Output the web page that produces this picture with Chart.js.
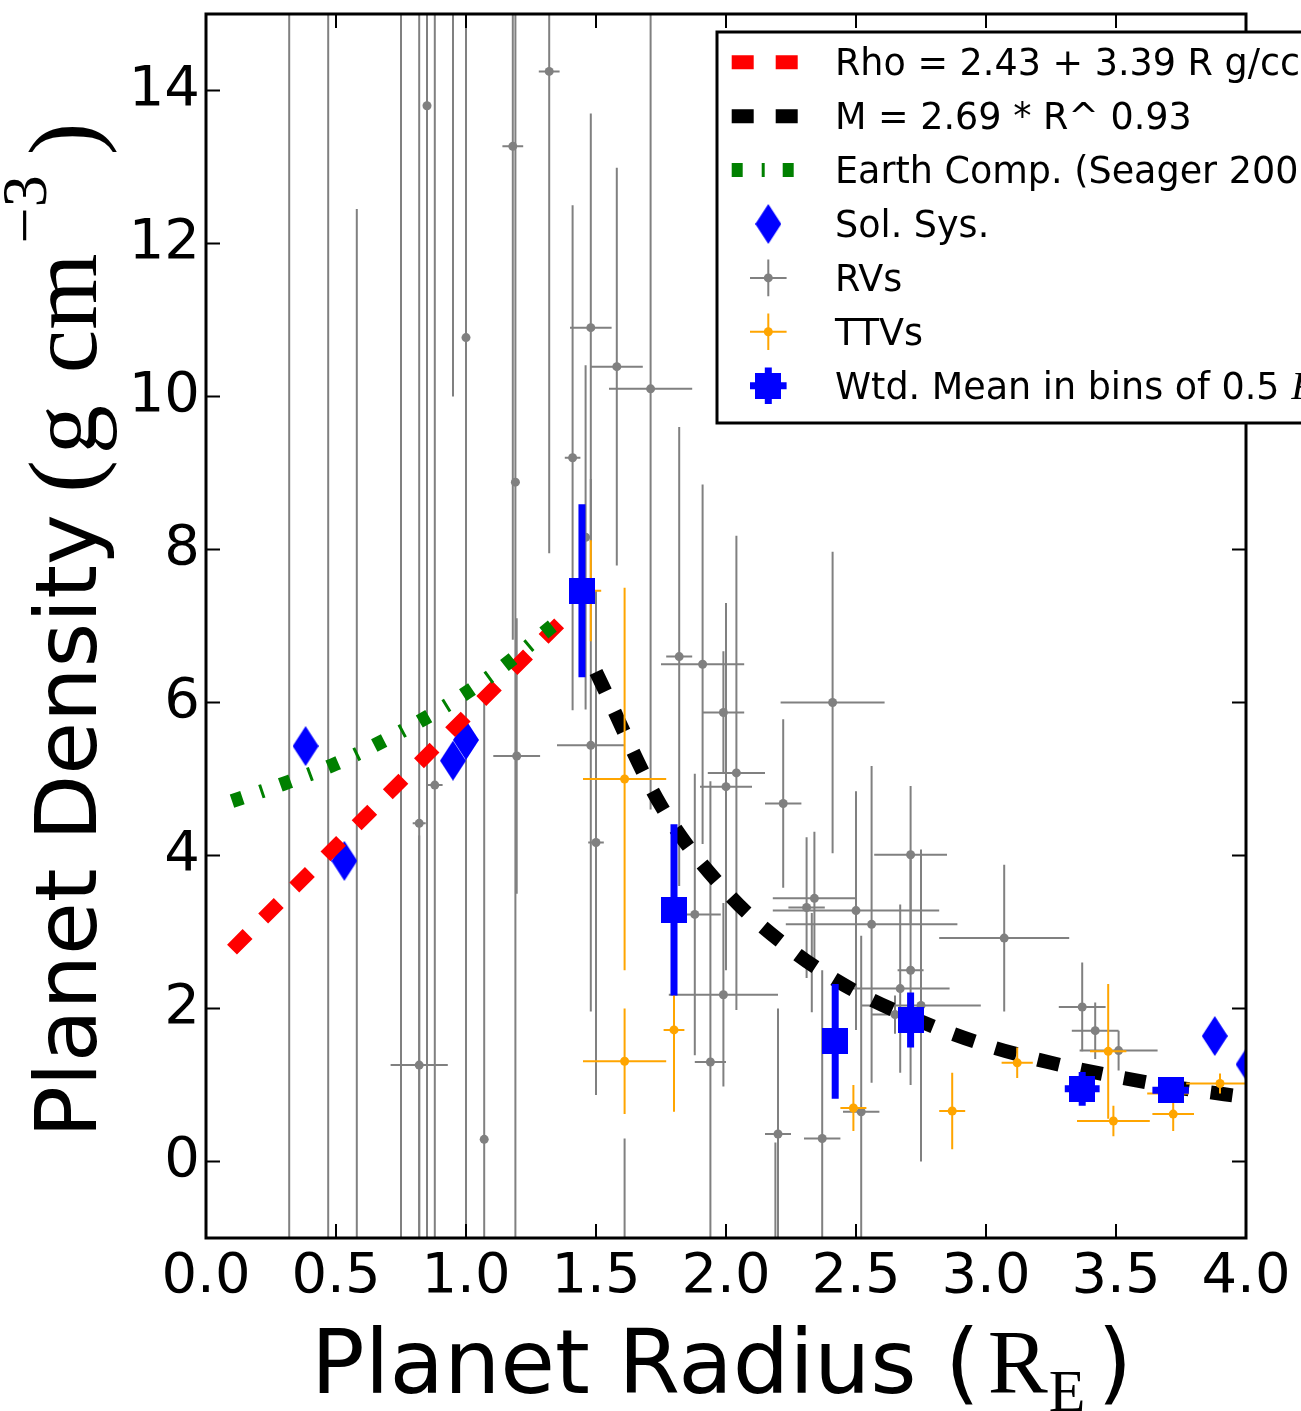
<!DOCTYPE html>
<html>
<head>
<meta charset="utf-8">
<title>Planet density vs radius</title>
<script src="https://cdn.jsdelivr.net/npm/chart.js@4.4.1/dist/chart.umd.min.js"></script>
<style>
  html, body { margin: 0; padding: 0; background: #fff; }
  canvas { display: block; }
</style>
</head>
<body>
<canvas id="densityChart" width="1301" height="1411"></canvas>
<script>
// Planet density vs planet radius, with fits, RV / TTV planets and binned means

const xTicks = [0, 0.5, 1, 1.5, 2, 2.5, 3, 3.5, 4];
const yTicks = [0, 2, 4, 6, 8, 10, 12, 14];

// linear density fit (red)
const fitR = [0.1, 1.36];
const fitRho = [2.77, 7.04];

// power-law mass fit, as density (black)
const powR = [1.5, 1.75, 2.0, 2.25, 2.5, 2.75, 3.0, 3.25, 3.5, 3.75, 4.0];
const powRho = [6.40, 4.65, 3.53, 2.77, 2.22, 1.83, 1.52, 1.29, 1.11, 0.96, 0.84];

// Earth composition curve (green)
const earthR = [0.1, 0.3, 0.5, 0.7, 0.9, 1.1, 1.35];
const earthRho = [4.71, 4.94, 5.2, 5.53, 5.91, 6.36, 7.05];

// solar system planets
const solR = [0.383, 0.532, 0.95, 1.0, 3.88, 4.01];
const solRho = [5.43, 3.93, 5.24, 5.51, 1.64, 1.27];

// RV planets
const rvR = [0.32, 0.47, 0.58, 0.75, 0.95, 0.82, 0.82, 0.85, 0.88, 1.00, 1.07, 1.18, 1.19, 1.195, 1.32, 1.41, 1.46, 1.48, 1.48, 1.50, 1.58, 1.71, 1.61, 1.82, 1.91, 1.88, 1.99, 2.04, 2.00, 1.94, 1.99, 2.22, 2.41, 2.20, 2.19, 2.37, 2.33, 2.31, 2.34, 2.50, 2.56, 2.71, 2.71, 2.67, 2.75, 2.65, 2.52, 3.07, 3.37, 3.42, 3.51];
const rvRho = [18.0, -3.0, -3.0, 20.0, 16.5, 4.42, 1.26, 13.8, 4.92, 10.77, 0.29, 13.27, 8.88, 5.30, 14.25, 9.2, 8.16, 10.9, 5.44, 4.17, 10.39, 10.1, -1.5, 6.6, 6.5, 3.23, 5.87, 5.08, 4.9, 1.3, 2.18, 4.68, 6.0, 0.36, -1.5, 0.3, 2.6, 3.32, 3.44, 3.28, 3.1, 4.01, 2.5, 2.26, 2.04, 1.92, 0.65, 2.92, 2.02, 1.71, 1.45];
const rvRErr = [0.01, 0.01, 0.01, 0.01, 0.01, 0.025, 0.11, 0.01, 0.03, 0.01, 0.01, 0.04, 0.01, 0.09, 0.04, 0.03, 0.01, 0.08, 0.13, 0.03, 0.1, 0.16, 0.01, 0.05, 0.16, 0.1, 0.08, 0.11, 0.1, 0.06, 0.21, 0.07, 0.2, 0.05, 0.01, 0.07, 0.02, 0.07, 0.16, 0.32, 0.33, 0.14, 0.05, 0.19, 0.23, 0.09, 0.07, 0.25, 0.09, 0.09, 0.15];
const rvRhoErr = [20, 19, 15.45, 22, 6.5, 11, 3, 16, 11, 12, 5.83, 6.45, 10, 1.8, 6.3, 3.3, 2.25, 2.8, 3.48, 3.3, 2.6, 5.5, 1.8, 3.0, 2.35, 1.84, 0.8, 3.1, 2.4, 3.67, 1.2, 1.1, 1.97, 1.64, 1.75, 2.2, 0.65, 0.92, 0.87, 1.56, 2.07, 0.9, 1.5, 1.1, 2.04, 0.25, 2.3, 0.96, 0.58, 0.37, 0.26];

// TTV planets
const ttvR = [1.48, 1.61, 1.61, 1.80, 2.49, 2.87, 3.12, 3.47, 3.49, 3.70, 3.72, 3.90];
const ttvRho = [7.46, 5.0, 1.31, 1.72, 0.70, 0.66, 1.29, 1.44, 0.53, 0.89, 0.62, 1.02];
const ttvRErr = [0.04, 0.16, 0.16, 0.04, 0.05, 0.05, 0.06, 0.07, 0.14, 0.08, 0.08, 0.13];
const ttvRhoErr = [0.66, 2.5, 0.69, 1.07, 0.3, 0.5, 0.2, 0.88, 0.2, 0.1, 0.22, 0.13];

// weighted means in 0.5 R_E bins
const meanR = [1.446, 1.80, 2.42, 2.71, 3.37, 3.71];
const meanRho = [7.46, 3.29, 1.57, 1.85, 0.95, 0.93];
const meanRErr = [0.03, 0.03, 0.03, 0.04, 0.067, 0.07];
const meanRhoErr = [1.13, 1.12, 0.75, 0.36, 0.22, 0.12];

const legendLabels = ['Rho = 2.43 + 3.39 R g/cc', 'M = 2.69 * R^ 0.93', 'Earth Comp. (Seager 2007)',
  'Sol. Sys.', 'RVs', 'TTVs', 'Wtd. Mean in bins of 0.5 '];

const RED = '#ff0000', GREEN = '#008000', BLUE = '#0000ff', GRAY = '#808080', ORANGE = '#ffa500';
const SANS = '"DejaVu Sans"', SERIF = '"Liberation Serif"';

function diamondImage(w, h, color) {
    const c = document.createElement('canvas');
    c.width = w; c.height = h;
    const g = c.getContext('2d');
    g.fillStyle = color;
    g.beginPath();
    g.moveTo(w / 2, 0); g.lineTo(w, h / 2); g.lineTo(w / 2, h); g.lineTo(0, h / 2);
    g.closePath(); g.fill();
    return c;
}

function squareImage(s, color) {
    const c = document.createElement('canvas');
    c.width = s; c.height = s;
    const g = c.getContext('2d');
    g.fillStyle = color;
    g.fillRect(0, 0, s, s);
    return c;
}

const diamondImg = diamondImage(26, 40, BLUE);
const squareImg = squareImage(26, BLUE);

const pts = (xs, ys) => xs.map((x, i) => ({ x: x, y: ys[i] }));

// error bars, drawn just under each dataset's markers
const errorBars = {
    id: 'errorBars',
    beforeDatasetDraw(chart, args) {
        const ds = chart.data.datasets[args.index];
        if (!ds.errY) return;
        const { ctx, chartArea: a, scales: { x, y } } = chart;
        ctx.save();
        ctx.beginPath();
        ctx.rect(a.left, a.top, a.right - a.left, a.bottom - a.top);
        ctx.clip();
        ctx.strokeStyle = ds.errColor;
        ctx.lineWidth = ds.errWidth;
        ds.data.forEach((p, i) => {
            const px = x.getPixelForValue(p.x), py = y.getPixelForValue(p.y);
            ctx.beginPath();
            ctx.moveTo(px, y.getPixelForValue(p.y - ds.errY[i]));
            ctx.lineTo(px, y.getPixelForValue(p.y + ds.errY[i]));
            ctx.moveTo(x.getPixelForValue(p.x - ds.errX[i]), py);
            ctx.lineTo(x.getPixelForValue(p.x + ds.errX[i]), py);
            ctx.stroke();
        });
        ctx.restore();
    }
};

// box round the axes with inward ticks on all four sides
const frame = {
    id: 'frame',
    afterDatasetsDraw(chart) {
        const { ctx, chartArea: a, scales: { x, y } } = chart;
        const len = 14;
        ctx.save();
        ctx.strokeStyle = '#000';
        ctx.lineWidth = 2;
        ctx.beginPath();
        xTicks.forEach(v => {
            const px = x.getPixelForValue(v);
            ctx.moveTo(px, a.bottom); ctx.lineTo(px, a.bottom - len);
            ctx.moveTo(px, a.top); ctx.lineTo(px, a.top + len);
        });
        yTicks.forEach(v => {
            const py = y.getPixelForValue(v);
            ctx.moveTo(a.left, py); ctx.lineTo(a.left + len, py);
            ctx.moveTo(a.right, py); ctx.lineTo(a.right - len, py);
        });
        ctx.stroke();
        ctx.lineWidth = 3;
        ctx.strokeRect(a.left, a.top, a.right - a.left, a.bottom - a.top);
        ctx.restore();
    }
};

const axisTitles = {
    id: 'axisTitles',
    afterDraw(chart) {
        const ctx = chart.ctx;
        const w = (s) => ctx.measureText(s).width;
        ctx.save();
        ctx.fillStyle = '#000';
        ctx.textBaseline = 'alphabetic';

        // x title: Planet Radius (R_E )
        let tx = 311;
        const base = 1393;
        ctx.font = '89px ' + SANS;
        ctx.fillText('Planet Radius (', tx, base);
        tx += w('Planet Radius (') + 8;
        ctx.font = '90px ' + SERIF;
        ctx.fillText('R', tx, base);
        tx += w('R') + 1;
        ctx.font = '60px ' + SERIF;
        ctx.fillText('E', tx, base + 18);
        tx += w('E') + 12;
        ctx.font = '89px ' + SANS;
        ctx.fillText(')', tx, base);

        // y title: Planet Density (g cm^-3 )
        ctx.translate(96, 1138);
        ctx.rotate(-Math.PI / 2);
        tx = 0;
        ctx.font = '86px ' + SANS;
        ctx.fillText('Planet Density ', tx, 0);
        tx += w('Planet Density ') - 6;
        ctx.font = '98px ' + SERIF;
        ctx.fillText('(', tx, 0);
        tx += w('(') + 6;
        ctx.fillText('g', tx, 0);
        tx += w('g') + 32;
        ctx.fillText('cm', tx, 0);
        tx += w('cm') + 10;
        ctx.font = '64px ' + SERIF;
        ctx.fillText('\u22123', tx, -50);
        tx += w('\u22123') + 20;
        ctx.font = '98px ' + SERIF;
        ctx.fillText(')', tx, 0);
        ctx.restore();
    }
};

const legendBox = {
    id: 'legendBox',
    afterDraw(chart) {
        const ctx = chart.ctx;
        const left = 717, top = 32, rowH = 53.9, firstRow = 62.3;
        const x0 = 731.7, x1 = 797.7, mx = 768.3, textX = 835;
        ctx.save();
        ctx.fillStyle = '#fff';
        ctx.fillRect(left, top, 700, 391);
        ctx.strokeStyle = '#000';
        ctx.lineWidth = 3;
        ctx.strokeRect(left, top, 700, 391);

        const lineSample = (yy, color, dash) => {
            ctx.save();
            ctx.strokeStyle = color;
            ctx.lineWidth = 14;
            ctx.lineCap = 'butt';
            ctx.setLineDash(dash);
            ctx.beginPath(); ctx.moveTo(x0, yy); ctx.lineTo(x1, yy); ctx.stroke();
            ctx.restore();
        };
        const crossSample = (yy, color, lw, arm) => {
            ctx.save();
            ctx.strokeStyle = color;
            ctx.lineWidth = lw;
            ctx.beginPath();
            ctx.moveTo(mx - arm, yy); ctx.lineTo(mx + arm, yy);
            ctx.moveTo(mx, yy - arm); ctx.lineTo(mx, yy + arm);
            ctx.stroke();
            ctx.restore();
        };

        const rows = legendLabels.map((_, i) => firstRow + i * rowH);
        lineSample(rows[0], RED, [22, 22]);
        lineSample(rows[1], '#000', [22, 22]);
        lineSample(rows[2], GREEN, [11, 19, 3, 18]);
        ctx.drawImage(diamondImg, mx - 13, rows[3] - 20);
        crossSample(rows[4], GRAY, 2, 18.3);
        ctx.fillStyle = GRAY;
        ctx.beginPath(); ctx.arc(mx, rows[4], 4.5, 0, Math.PI * 2); ctx.fill();
        crossSample(rows[5], ORANGE, 2, 18.3);
        ctx.fillStyle = ORANGE;
        ctx.beginPath(); ctx.arc(mx, rows[5], 4.5, 0, Math.PI * 2); ctx.fill();
        crossSample(rows[6], BLUE, 7, 18.3);
        ctx.drawImage(squareImg, mx - 13, rows[6] - 13);

        ctx.fillStyle = '#000';
        ctx.textBaseline = 'alphabetic';
        ctx.font = '36.5px ' + SANS;
        legendLabels.forEach((t, i) => ctx.fillText(t, textX, rows[i] + 13));
        const tail = ctx.measureText(legendLabels[6]).width;
        ctx.font = 'italic 40px ' + SERIF;
        ctx.fillText('R', textX + tail, rows[6] + 13);
        ctx.restore();
    }
};

new Chart(document.getElementById('densityChart'), {
    type: 'scatter',
    data: {
        datasets: [
            {
                label: 'Wtd. Mean',
                data: pts(meanR, meanRho),
                pointStyle: squareImg,
                pointRadius: 13,
                errX: meanRErr, errY: meanRhoErr, errColor: BLUE, errWidth: 7,
                order: 0, clip: 0
            },
            {
                label: 'TTVs',
                data: pts(ttvR, ttvRho),
                pointRadius: 4.5,
                pointBackgroundColor: ORANGE,
                pointBorderWidth: 0,
                errX: ttvRErr, errY: ttvRhoErr, errColor: ORANGE, errWidth: 2,
                order: 1, clip: 0
            },
            {
                label: 'M = 2.69 * R^ 0.93',
                data: pts(powR, powRho),
                showLine: true,
                borderColor: '#000',
                borderWidth: 14,
                borderDash: [22, 22],
                cubicInterpolationMode: 'monotone',
                pointRadius: 0,
                order: 2, clip: 0
            },
            {
                label: 'Earth Comp. (Seager 2007)',
                data: pts(earthR, earthRho),
                showLine: true,
                borderColor: GREEN,
                borderWidth: 14,
                borderDash: [11, 19, 3, 18],
                cubicInterpolationMode: 'monotone',
                pointRadius: 0,
                order: 3, clip: 0
            },
            {
                label: 'Rho = 2.43 + 3.39 R g/cc',
                data: pts(fitR, fitRho),
                showLine: true,
                borderColor: RED,
                borderWidth: 14,
                borderDash: [22, 22],
                pointRadius: 0,
                order: 4, clip: 0
            },
            {
                label: 'Sol. Sys.',
                data: pts(solR, solRho),
                pointStyle: diamondImg,
                pointRadius: 13,
                order: 5, clip: 0
            },
            {
                label: 'RVs',
                data: pts(rvR, rvRho),
                pointRadius: 4.5,
                pointBackgroundColor: GRAY,
                pointBorderWidth: 0,
                errX: rvRErr, errY: rvRhoErr, errColor: GRAY, errWidth: 2,
                order: 6, clip: 0
            }
        ]
    },
    options: {
        responsive: false,
        animation: false,
        devicePixelRatio: 1,
        layout: { padding: { top: 14, right: 55, left: 0, bottom: 0 } },
        plugins: {
            legend: { display: false },
            tooltip: { enabled: false }
        },
        scales: {
            x: {
                type: 'linear',
                min: 0,
                max: 4,
                grid: { display: false, drawTicks: false },
                border: { display: false },
                afterBuildTicks: (s) => { s.ticks = xTicks.map(v => ({ value: v })); },
                afterFit: (s) => { s.height = 173; s.paddingLeft = 0; s.paddingRight = 0; },
                ticks: {
                    color: '#000',
                    font: { family: 'DejaVu Sans', size: 56 },
                    padding: 6,
                    maxRotation: 0,
                    autoSkip: false,
                    callback: (v) => Number(v).toFixed(1)
                }
            },
            y: {
                type: 'linear',
                min: -1,
                max: 15,
                grid: { display: false, drawTicks: false },
                border: { display: false },
                afterBuildTicks: (s) => { s.ticks = yTicks.map(v => ({ value: v })); },
                afterFit: (s) => { s.width = 206; s.paddingTop = 0; s.paddingBottom = 0; },
                ticks: {
                    color: '#000',
                    font: { family: 'DejaVu Sans', size: 56 },
                    padding: 6,
                    autoSkip: false,
                    callback: (v) => String(v)
                }
            }
        }
    },
    plugins: [errorBars, frame, axisTitles, legendBox]
});
</script>
</body>
</html>
